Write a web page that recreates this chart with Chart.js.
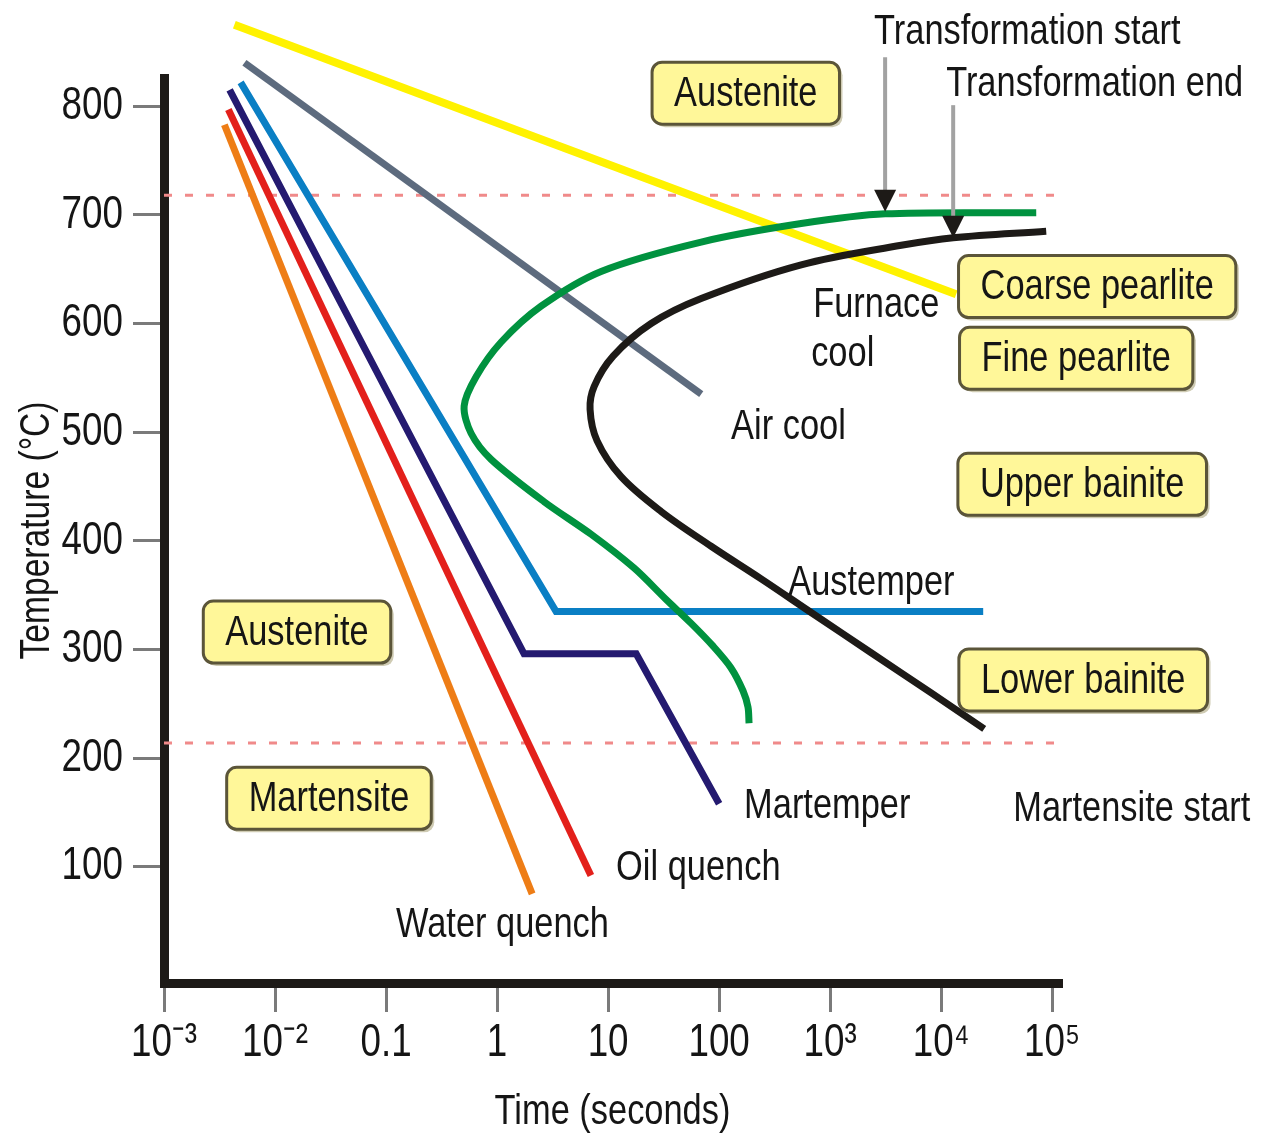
<!DOCTYPE html>
<html>
<head>
<meta charset="utf-8">
<title>Continuous cooling transformation diagram</title>
<script src="https://cdn.jsdelivr.net/npm/chart.js@4.4.1/dist/chart.umd.min.js"></script>
<style>
  html, body { margin: 0; padding: 0; background: #ffffff; }
  #wrap { width: 1261px; height: 1133px; }
</style>
</head>
<body>
<div id="wrap"><canvas id="cct" width="1261" height="1133"></canvas></div>
<script>
// ---- Data: cooling paths (time in s, temperature in °C) ----
const furnaceCoolTime = [0.0043, 13650];
const furnaceCoolTemp = [875, 627];
const airCoolTime = [0.0053, 69];
const airCoolTemp = [840, 535];
const austemperTime = [0.0049, 3.4, 23900];
const austemperTemp = [822, 335, 335];
const martemperTime = [0.0039, 1.75, 17.9, 100];
const martemperTemp = [815, 296, 296, 158];
const oilQuenchTime = [0.0038, 7.0];
const oilQuenchTemp = [797, 92];
const waterQuenchTime = [0.0035, 2.07];
const waterQuenchTemp = [783, 75];

// Transformation start / end curves
const startCurveTime = [71800, 3130, 548, 68.9, 8.65, 2.49, 1.09, 0.647, 0.505, 0.583, 0.883, 2.65, 7.03, 17.1, 33.3, 56, 88.3, 128, 164, 182, 186];
const startCurveTemp = [702, 701, 692, 675, 648, 616, 583, 551, 524, 499, 475, 436, 406, 375, 346, 324, 303, 283, 262, 247, 232];
const endCurveTime = [88300, 12830, 4365, 548, 68.9, 24.4, 11.1, 7.48, 6.88, 7.96, 13.1, 30, 84.7, 239, 674, 2340, 8130, 24400];
const endCurveTemp = [685, 679, 672, 654, 623, 600, 570, 542, 521, 492, 459, 427, 395, 365, 334, 297, 260, 227];

// Reference temperatures (eutectoid and martensite start), drawn across the time range
const referenceTime = [0.001, 108000];
const eutectoidTemp = [718, 718];
const martensiteStartTemp = [214, 214];

// Axis ticks
const timeTickValues = [1e-3, 1e-2, 0.1, 1, 10, 100, 1e3, 1e4, 1e5];
const timeTickLabels = ['10⁻³', '10⁻²', '0.1', '1', '10', '100', '10³', '10⁴', '10⁵'];
const tempTickValues = [100, 200, 300, 400, 500, 600, 700, 800];

// Text annotations: position given as log10(time) and temperature
const phaseBoxes = [
  { text: 'Austenite',       lg: 2.24,  t: 812 },
  { text: 'Coarse pearlite', lg: 5.405, t: 634 },
  { text: 'Fine pearlite',   lg: 5.216, t: 568 },
  { text: 'Upper bainite',   lg: 5.27,  t: 452 },
  { text: 'Lower bainite',   lg: 5.279, t: 272 },
  { text: 'Austenite',       lg: -1.802, t: 316 },
  { text: 'Martensite',      lg: -1.514, t: 163 }
];
const pathLabels = [
  { text: 'Transformation start', lg: 3.396, t: 868 },
  { text: 'Transformation end',   lg: 4.045, t: 820 },
  { text: 'Furnace',              lg: 2.847, t: 617 },
  { text: 'cool',                 lg: 2.829, t: 572 },
  { text: 'Air cool',             lg: 2.108, t: 505 },
  { text: 'Austemper',            lg: 2.622, t: 361 },
  { text: 'Martemper',            lg: 2.225, t: 156 },
  { text: 'Oil quench',           lg: 1.072, t: 99 },
  { text: 'Water quench',         lg: -0.91, t: 46 },
  { text: 'Martensite start',     lg: 4.649, t: 153 }
];
const pointerArrows = [
  { lg: 3.495, from: 845, to: 703 },
  { lg: 4.108, from: 801, to: 679 }
];

// Narrow sans look: Liberation Sans drawn with a horizontal squeeze
const FAMILY = '"Liberation Sans", Arial, sans-serif';
const SQUEEZE = 0.8;
Chart.defaults.font.family = FAMILY;
Chart.defaults.color = '#151515';

const canvas = document.getElementById('cct');
const ctx2d = canvas.getContext('2d');
const baseFillText = ctx2d.fillText.bind(ctx2d);
ctx2d.fillText = function (text, x, y, maxWidth) {
  this.save();
  this.translate(x, y);
  this.scale(SQUEEZE, 1);
  baseFillText(text, 0, 0);
  this.restore();
};

const pts = (xs, ys) => xs.map((x, i) => ({ x: x, y: ys[i] }));

function path(data, color, width, order, extra) {
  return Object.assign({
    data: data,
    borderColor: color,
    backgroundColor: color,
    borderWidth: width,
    pointRadius: 0,
    fill: false,
    tension: 0,
    clip: false,
    borderCapStyle: 'butt',
    borderJoinStyle: 'miter',
    order: order
  }, extra || {});
}

const annotate = {
  id: 'annotate',
  afterDatasetsDraw(chart) {
    const { ctx } = chart;
    const xs = chart.scales.x, ys = chart.scales.y;
    const px = lg => xs.getPixelForValue(Math.pow(10, lg));
    const py = t => ys.getPixelForValue(t);
    ctx.save();

    // pointer arrows
    pointerArrows.forEach(a => {
      const x = px(a.lg), y0 = py(a.from), y1 = py(a.to);
      ctx.strokeStyle = '#a2a2a2';
      ctx.lineWidth = 4;
      ctx.beginPath();
      ctx.moveTo(x, y0);
      ctx.lineTo(x, y1 - 18);
      ctx.stroke();
      ctx.fillStyle = '#1d1a17';
      ctx.beginPath();
      ctx.moveTo(x - 11, y1 - 22);
      ctx.lineTo(x + 11, y1 - 22);
      ctx.lineTo(x, y1);
      ctx.closePath();
      ctx.fill();
    });

    // plain labels
    ctx.font = '43px ' + FAMILY;
    ctx.fillStyle = '#151515';
    ctx.textAlign = 'left';
    ctx.textBaseline = 'middle';
    pathLabels.forEach(l => ctx.fillText(l.text, px(l.lg), py(l.t)));

    // phase boxes
    phaseBoxes.forEach(b => {
      const w = ctx.measureText(b.text).width * SQUEEZE + 44;
      const h = 62;
      const cx = px(b.lg), cy = py(b.t);
      const x = cx - w / 2, y = cy - h / 2;
      ctx.fillStyle = '#cfcbb3';
      ctx.beginPath();
      ctx.roundRect(x + 3, y + 3, w, h, 10);
      ctx.fill();
      ctx.fillStyle = '#fff799';
      ctx.strokeStyle = '#5b5539';
      ctx.lineWidth = 3;
      ctx.beginPath();
      ctx.roundRect(x, y, w, h, 10);
      ctx.fill();
      ctx.stroke();
      ctx.fillStyle = '#151515';
      ctx.textAlign = 'center';
      ctx.fillText(b.text, cx, cy + 1);
    });
    ctx.restore();
  }
};

new Chart(canvas, {
  type: 'line',
  data: {
    datasets: [
      path(pts(endCurveTime, endCurveTemp), '#1d1a17', 7, 1, { tension: 0.35 }),
      path(pts(startCurveTime, startCurveTemp), '#00923f', 7, 2, { tension: 0.3 }),
      path(pts(waterQuenchTime, waterQuenchTemp), '#ee7d16', 7, 3),
      path(pts(oilQuenchTime, oilQuenchTemp), '#e3201b', 7, 4),
      path(pts(martemperTime, martemperTemp), '#241a70', 7, 5),
      path(pts(austemperTime, austemperTemp), '#0a7fc4', 7, 6),
      path(pts(airCoolTime, airCoolTemp), '#5d6b7e', 7, 7),
      path(pts(furnaceCoolTime, furnaceCoolTemp), '#fff200', 8, 8),
      path(pts(referenceTime, eutectoidTemp), '#f08a8a', 3, 9, { borderDash: [8, 13] }),
      path(pts(referenceTime, martensiteStartTemp), '#f08a8a', 3, 9, { borderDash: [8, 13] })
    ]
  },
  options: {
    responsive: false,
    animation: false,
    events: [],
    layout: { padding: { top: 78, right: 200, left: 0, bottom: 0 } },
    plugins: { legend: { display: false }, tooltip: { enabled: false }, title: { display: false } },
    scales: {
      x: {
        type: 'logarithmic',
        min: 1e-3,
        max: 120000,
        afterBuildTicks: s => { s.ticks = timeTickValues.map(v => ({ value: v })); },
        afterFit: s => { s.height = 150; },
        ticks: {
          autoSkip: false,
          maxRotation: 0,
          padding: 4,
          color: '#151515',
          font: { size: 46 },
          callback: (v, i) => timeTickLabels[i]
        },
        grid: { display: true, drawOnChartArea: false, drawTicks: true, tickLength: 29, tickColor: '#7a7a7a', lineWidth: 3 },
        border: { display: true, color: '#1d1a17', width: 9 },
        title: { display: true, text: 'Time (seconds)', color: '#151515', font: { size: 43 }, padding: { top: 0, bottom: -5 } }
      },
      y: {
        type: 'linear',
        min: -7,
        max: 826,
        afterBuildTicks: s => { s.ticks = tempTickValues.map(v => ({ value: v })); },
        afterFit: s => { s.width = 164; },
        ticks: { padding: 10, color: '#151515', font: { size: 46 } },
        grid: { display: true, drawOnChartArea: false, drawTicks: true, tickLength: 31, tickColor: '#7a7a7a', lineWidth: 3 },
        border: { display: true, color: '#1d1a17', width: 9 },
        title: { display: true, text: 'Temperature (°C)', color: '#151515', font: { size: 42 }, padding: { top: 12, bottom: 0 } }
      }
    }
  },
  plugins: [annotate]
});
</script>
</body>
</html>
